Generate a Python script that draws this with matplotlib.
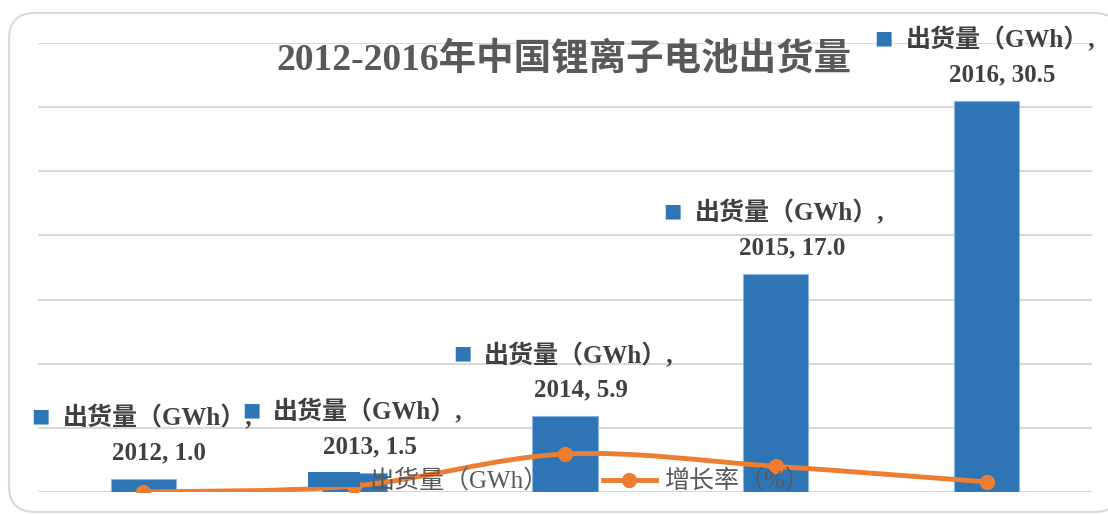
import matplotlib
matplotlib.use("Agg")
import matplotlib.pyplot as plt
import numpy as np
from matplotlib.path import Path
from matplotlib.patches import PathPatch, FancyBboxPatch, Patch
from matplotlib.lines import Line2D
from matplotlib.transforms import IdentityTransform

years = ["2012", "2013", "2014", "2015", "2016"]
shipment = [1.0, 1.5, 5.9, 17.0, 30.5]        # GWh
growth = [0.0, 0.47, 2.96, 2.0, 0.79]          # fraction, same axis as bars
series_name = "出货量（GWh）"
growth_name = "增长率（%）"
title = "2012-2016年中国锂离子电池出货量"

BLUE = "#2E75B6"
ORANGE = "#ED7D31"
GRID = "#D9D9D9"
FAM = ["Liberation Serif", "Noto Sans CJK SC", "DejaVu Sans"]


def smooth_path(xs, ys):
    # excel-like smoothed line: cubic bezier through the points
    pts = list(zip(xs, ys))
    n = len(pts)
    verts, codes = [pts[0]], [Path.MOVETO]
    for i in range(n - 1):
        p0, p1 = pts[max(i - 1, 0)], pts[i]
        p2, p3 = pts[i + 1], pts[min(i + 2, n - 1)]
        c1 = (p1[0] + (p2[0] - p0[0]) / 6, p1[1] + (p2[1] - p0[1]) / 6)
        c2 = (p2[0] - (p3[0] - p1[0]) / 6, p2[1] - (p3[1] - p1[1]) / 6)
        verts += [c1, c2, p2]
        codes += [Path.CURVE4] * 3
    return Path(verts, codes)


fig = plt.figure(figsize=(11.08, 5.15), dpi=100)
ax = fig.add_axes([38 / 1108, 23 / 515, 1054 / 1108, 449 / 515])

frame = FancyBboxPatch((9, 3), 1111, 499, boxstyle="round,pad=0,rounding_size=26",
                       transform=IdentityTransform(), facecolor="white",
                       edgecolor=GRID, lw=1.5, zorder=-10)
fig.add_artist(frame)
ax.set_facecolor("none")

x = np.arange(len(years))
ax.bar(x, shipment, width=0.31, color=BLUE, edgecolor="#8DB4E0", linewidth=0.8, zorder=2)

ax.add_patch(PathPatch(smooth_path(x, growth), facecolor="none", edgecolor=ORANGE,
                       lw=3.5, capstyle="round", zorder=3))
ax.plot(x, growth, "o", color=ORANGE, ms=10, zorder=4)

ax.set_xlim(-0.5, len(years) - 0.5)
ax.set_ylim(0, 35)
ax.set_yticks(range(0, 36, 5))
ax.set_xticks([])
ax.yaxis.grid(True, color=GRID, lw=1.5)
ax.set_axisbelow(True)
ax.tick_params(length=0, labelleft=False)
for s in ax.spines.values():
    s.set_visible(False)

for xi, yr, v in zip(x, years, shipment):
    ax.annotate("■", (xi, v), xytext=(-103, 63), textcoords="offset pixels",
                ha="center", va="center", color=BLUE, fontsize=14,
                family="DejaVu Sans", zorder=6)
    ax.annotate(series_name + ",", (xi, v), xytext=(-81, 61), textcoords="offset pixels",
                ha="left", va="center", color="#404040", fontsize=18,
                fontweight="bold", family=FAM, zorder=6)
    ax.annotate(f"{yr}, {v:.1f}", (xi, v), xytext=(16, 26), textcoords="offset pixels",
                ha="center", va="center", color="#404040", fontsize=18,
                fontweight="bold", family=FAM, zorder=6)

fig.text(564 / 1108, 1 - 60 / 515, title, ha="center", va="center", fontsize=27,
         fontweight="bold", color="#595959", family=FAM)

handles = [Patch(facecolor=BLUE, edgecolor="none"),
           Line2D([], [], color=ORANGE, lw=3.5, marker="o", ms=10)]
leg = fig.legend(handles, [series_name, growth_name], loc="center",
                 bbox_to_anchor=(559 / 1108, 34 / 515), ncol=2, frameon=False,
                 prop={"family": FAM, "size": 18}, labelcolor="#595959",
                 handlelength=2.1, handleheight=0.55, handletextpad=0.35,
                 columnspacing=2.2, borderaxespad=0, borderpad=0)
leg.set_zorder(5)

fig.savefig("out.png", dpi=100)
